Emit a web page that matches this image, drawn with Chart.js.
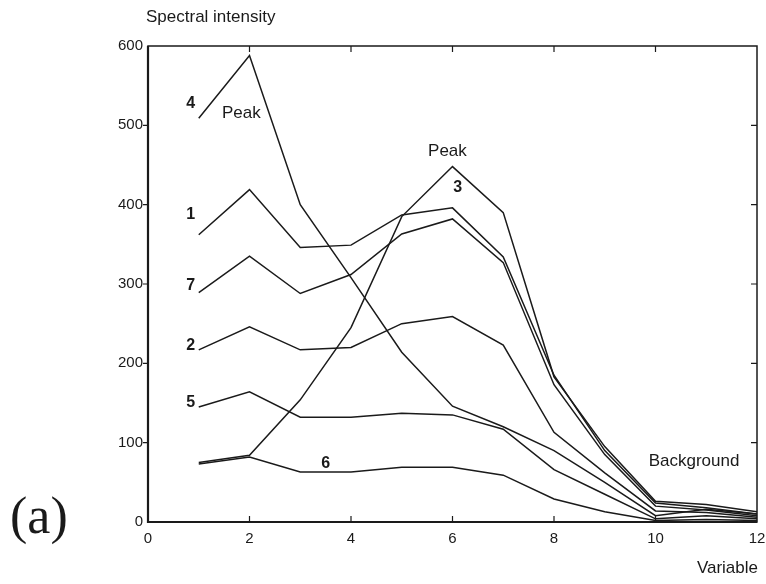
<!DOCTYPE html>
<html>
<head>
<meta charset="utf-8">
<script src="https://cdn.jsdelivr.net/npm/chart.js@4"></script>
<style>
  html, body { margin: 0; padding: 0; background: #fff; }
  #wrap { position: relative; width: 766px; height: 584px; }
  canvas { display: block; }
</style>
</head>
<body>
<div id="wrap"><canvas id="c" width="766" height="584"></canvas></div>
<script>
// ---- data ----
const variables = [1, 2, 3, 4, 5, 6, 7, 8, 9, 10, 11, 12];
const series1 = [362, 419, 346, 349, 387, 396, 334, 185, 90, 24, 18, 10];
const series2 = [217, 246, 217, 220, 250, 259, 223, 113, 62, 14, 12, 6];
const series3 = [75, 84, 154, 245, 385, 448, 390, 183, 95, 26, 22, 13];
const series4 = [509, 588, 400, 308, 214, 146, 120, 90, 50, 8, 16, 10];
const series5 = [145, 164, 132, 132, 137, 135, 117, 66, 35, 4, 8, 4];
const series6 = [73, 82, 63, 63, 69, 69, 59, 29, 13, 2, 3, 2];
const series7 = [289, 335, 288, 312, 363, 382, 327, 173, 85, 20, 15, 8];
const seriesNames = ['1', '2', '3', '4', '5', '6', '7'];
const xTicks = [0, 2, 4, 6, 8, 10, 12];
const yTicks = [0, 100, 200, 300, 400, 500, 600];

// text annotations placed in data coordinates
const annotLabels = ['4', 'Peak', 'Peak', '3', '1', '7', '2', '5', '6', 'Background'];
const annotX = [0.84, 1.84, 5.9, 6.1, 0.84, 0.84, 0.84, 0.84, 3.5, 10.76];
const annotY = [527, 515, 467, 422, 388, 298, 222, 151, 73, 76];
const annotBold = [true, false, false, true, true, true, true, true, true, false];

const allSeries = [series1, series2, series3, series4, series5, series6, series7];
const datasets = allSeries.map((s, i) => ({
  label: seriesNames[i],
  data: variables.map((v, j) => ({ x: v, y: s[j] })),
  borderColor: '#1a1a1a',
  borderWidth: 1.5,
  pointRadius: 0,
  tension: 0,
  fill: false
}));

const FONT = '"Liberation Sans", Arial, sans-serif';

const frameAndText = {
  id: 'frameAndText',
  afterDatasetsDraw(chart) {
    const ctx = chart.ctx;
    const a = chart.chartArea;
    const xs = chart.scales.x, ys = chart.scales.y;
    ctx.save();
    ctx.strokeStyle = '#1a1a1a';
    ctx.lineWidth = 1.5;
    ctx.strokeRect(a.left, a.top, a.right - a.left, a.bottom - a.top);
    ctx.lineWidth = 2.2;
    ctx.beginPath();
    ctx.moveTo(a.left, a.top); ctx.lineTo(a.left, a.bottom); ctx.lineTo(a.right, a.bottom);
    ctx.stroke();
    ctx.lineWidth = 1.2;
    ctx.beginPath();
    xTicks.forEach(t => {
      if (t === 0 || t === 12) return;
      const px = xs.getPixelForValue(t);
      ctx.moveTo(px, a.bottom); ctx.lineTo(px, a.bottom - 6);
      ctx.moveTo(px, a.top); ctx.lineTo(px, a.top + 6);
    });
    yTicks.forEach(t => {
      if (t === 0 || t === 600) return;
      const py = ys.getPixelForValue(t);
      ctx.moveTo(a.left, py); ctx.lineTo(a.left - 5, py);
      ctx.moveTo(a.right, py); ctx.lineTo(a.right - 6, py);
    });
    ctx.stroke();

    // annotations
    ctx.fillStyle = '#1a1a1a';
    ctx.textAlign = 'center';
    ctx.textBaseline = 'middle';
    annotLabels.forEach((t, i) => {
      ctx.font = (annotBold[i] ? 'bold 16px ' : '17px ') + FONT;
      ctx.fillText(t, xs.getPixelForValue(annotX[i]), ys.getPixelForValue(annotY[i]));
    });

    // axis titles
    ctx.font = '17px ' + FONT;
    ctx.textAlign = 'left';
    ctx.fillText('Spectral intensity', 146, 17);
    ctx.textAlign = 'right';
    ctx.fillText('Variable', 758, 568);
    // panel label
    ctx.font = '52px "Liberation Serif", "Times New Roman", serif';
    ctx.textAlign = 'left';
    ctx.fillText('(a)', 10, 519);
    ctx.restore();
  }
};

new Chart(document.getElementById('c'), {
  type: 'line',
  data: { datasets },
  options: {
    responsive: false,
    animation: false,
    layout: { padding: { left: 88, right: 9, top: 46, bottom: 0 } },
    plugins: { legend: { display: false }, tooltip: { enabled: false } },
    scales: {
      x: {
        type: 'linear', min: 0, max: 12,
        grid: { display: false, drawTicks: false }, border: { display: false },
        afterBuildTicks: s => { s.ticks = xTicks.map(v => ({ value: v })); },
        afterFit: s => { s.height = 62; s.paddingLeft = 0; s.paddingRight = 0; },
        ticks: { color: '#1a1a1a', padding: 8, maxRotation: 0,
                 font: { size: 15, family: FONT } }
      },
      y: {
        min: 0, max: 600,
        grid: { display: false, drawTicks: false }, border: { display: false },
        afterBuildTicks: s => { s.ticks = yTicks.map(v => ({ value: v })); },
        afterFit: s => { s.width = 60; s.paddingTop = 0; s.paddingBottom = 0; },
        ticks: { color: '#1a1a1a', padding: 5,
                 font: { size: 15, family: FONT } }
      }
    }
  },
  plugins: [frameAndText]
});
</script>
</body>
</html>
